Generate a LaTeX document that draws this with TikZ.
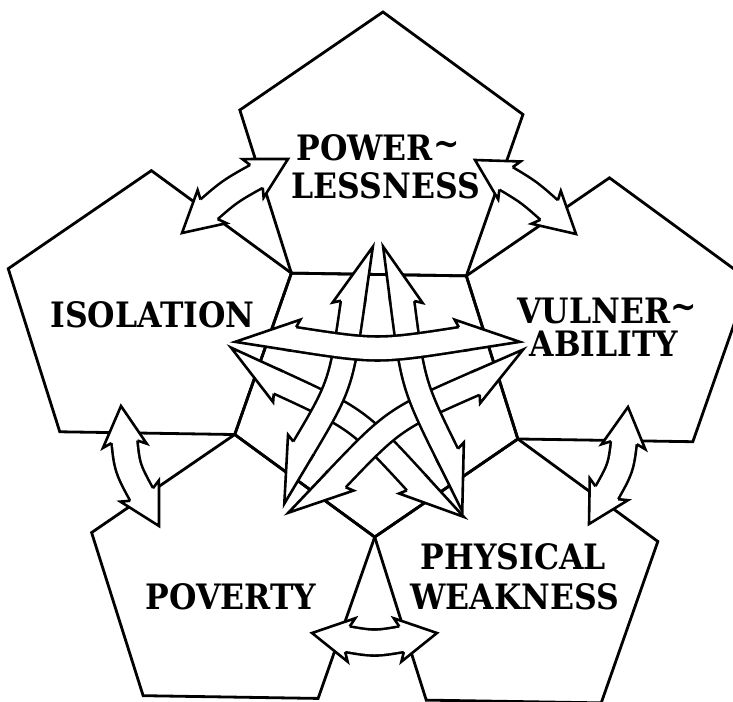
\documentclass[tikz,border=0pt]{standalone}
\usepackage{fontspec}
\setmainfont{DejaVu Serif}[FakeStretch=0.9]
\usetikzlibrary{calc}

\tikzset{
  pent/.style={draw=black, line width=2.8pt, line join=miter},
  arr/.style={line width=2.6pt, line join=miter, miter limit=8},
  lbl/.style={inner sep=0pt, anchor=center, font=\fontsize{35}{40}\selectfont\bfseries},
}

% full (symmetric) arrow head: #1 tip, #2 control, #3 half shaft, #4 length, #5 barb
\newcommand\fhead[5]{%
  \pgfmathsetmacro\hLw{#4+4}%
  \coordinate (hb) at ($(#1)!#4pt!(#2)$);
  \coordinate (hbw) at ($(#1)!\hLw pt!(#2)$);
  \coordinate (hl) at ($(hbw)!#5pt!90:(#1)$);
  \coordinate (hr) at ($(hbw)!#5pt!-90:(#1)$);
  \coordinate (sl) at ($(hb)!#3pt!90:(#1)$);
  \coordinate (sr) at ($(hb)!#3pt!-90:(#1)$);
  \fill[white] (#1) -- (hl) -- (sl) -- (sr) -- (hr) -- cycle;
  \draw[arr] (sl) -- (hl) -- (#1) -- (hr) -- (sr);
}
% half arrow head: #1 axis end, #2 control, #3 half shaft, #4 length, #5 barb, #6 outer angle, #7 inner angle
\newcommand\hhead[7]{%
  \pgfmathsetmacro\hLw{#4+3}%
  \coordinate (hb) at ($(#1)!#4pt!(#2)$);
  \coordinate (hbw) at ($(#1)!\hLw pt!(#2)$);
  \coordinate (ht) at ($(#1)!#3pt!#7:(#2)$);
  \coordinate (hi) at ($(hb)!#3pt!#7:(#2)$);
  \coordinate (ho) at ($(hbw)!#5pt!#6:(#2)$);
  \coordinate (hs) at ($(hb)!#3pt!#6:(#2)$);
  \fill[white] (ht) -- (ho) -- (hs) -- (hi) -- cycle;
  \draw[arr] (hs) -- (ho) -- (ht) -- (hi);
}
\newcommand\outerarrow[3]{%
  \draw[line width=28.6pt, shorten <=30pt, shorten >=30pt] (#1) .. controls (#2) .. (#3);
  \draw[white, line width=23.4pt, shorten <=30pt, shorten >=30pt] (#1) .. controls (#2) .. (#3);
  \fhead{#1}{#2}{13}{36}{22}
  \fhead{#3}{#2}{13}{36}{22}
}
\newcommand\stararrow[4]{%
  \pgfmathsetmacro\sneg{-1*#4}%
  \draw[line width=26.6pt, shorten <=51pt, shorten >=51pt] (#1) .. controls (#2) .. (#3);
  \draw[white, line width=21.4pt, shorten <=51pt, shorten >=51pt] (#1) .. controls (#2) .. (#3);
  \hhead{#1}{#2}{12}{58}{20}{#4}{\sneg}
  \hhead{#3}{#2}{12}{58}{20}{\sneg}{#4}
}

\begin{document}
\begin{tikzpicture}[x=1pt,y=-1pt]
\useasboundingbox (0,0) rectangle (733,701);
\clip (0,0) rectangle (733,701);

% pentagons
\begin{scope}[shift={(377,391.9)}, rotate=-0.9, yscale=-0.975]
  \draw[pent] (-90:148.86) -- (-18:148.86) -- (54:148.86) -- (126:148.86) -- (198:148.86) -- cycle;
  \foreach \a in {90,18,162,-54,-126}{
    \draw[pent] ($(\a:240.86)+(90:148.86)$) -- ($(\a:240.86)+(162:148.86)$)
      -- ($(\a:240.86)+(234:148.86)$) -- ($(\a:240.86)+(306:148.86)$)
      -- ($(\a:240.86)+(18:148.86)$) -- cycle;
  }
\end{scope}

% outer arrows
\coordinate (o1a) at (182,233); \coordinate (o1p) at (230,191); \coordinate (o1b) at (288,159);
\coordinate (o2a) at (475,160); \coordinate (o2p) at (529,192); \coordinate (o2b) at (576,234);
\coordinate (o3a) at (121,406); \coordinate (o3p) at (127,468); \coordinate (o3b) at (159,526);
\coordinate (o4a) at (628,407); \coordinate (o4p) at (621,468); \coordinate (o4b) at (589,524);
\coordinate (o5a) at (312,633); \coordinate (o5p) at (374.5,644); \coordinate (o5b) at (437,633);
\outerarrow{o1a}{o1p}{o1b}
\outerarrow{o2a}{o2p}{o2b}
\outerarrow{o3a}{o3p}{o3b}
\outerarrow{o4a}{o4p}{o4b}
\outerarrow{o5a}{o5p}{o5b}

% star arrows
\coordinate (v1a) at (361,245); \coordinate (v1p) at (341,385); \coordinate (v1b) at (274,497.5);
\coordinate (v2a) at (395,245); \coordinate (v2p) at (413,385); \coordinate (v2b) at (473,506);
\coordinate (hha) at (237,330); \coordinate (hhp) at (377.5,352); \coordinate (hhb) at (518,330);
\coordinate (d1a) at (226,358.5); \coordinate (d1p) at (358,419); \coordinate (d1b) at (455,525);
\coordinate (d2a) at (528,360.5); \coordinate (d2p) at (394,419); \coordinate (d2b) at (297,521);
\stararrow{d1a}{d1p}{d1b}{-90}
\stararrow{d2a}{d2p}{d2b}{90}
\stararrow{v1a}{v1p}{v1b}{-90}
\stararrow{v2a}{v2p}{v2b}{90}
\stararrow{hha}{hhp}{hhb}{90}

% labels
\node[lbl] (tpow1) at (378,148) {POWER\raisebox{5pt}{\textasciitilde}};
\node[lbl] (tpow2) at (386,185.5) {LESSNESS};
\node[lbl] (tiso) at (152.5,315) {ISOLATION};
\node[lbl] (tvul1) at (607,311) {VULNER\raisebox{5pt}{\textasciitilde}};
\node[lbl] (tvul2) at (604,344) {ABILITY};
\node[lbl] (tphy1) at (513.5,556.5) {PHYSICAL};
\node[lbl] (tphy2) at (515,597) {WEAKNESS};
\node[lbl] (tpov) at (231,597) {POVERTY};
\end{tikzpicture}
\end{document}
